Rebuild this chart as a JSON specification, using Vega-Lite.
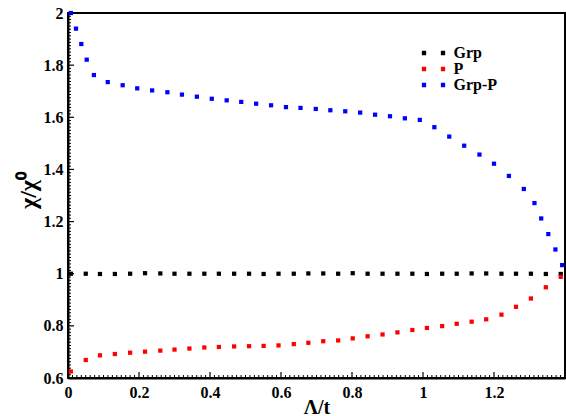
{
  "$schema": "https://vega.github.io/schema/vega-lite/v6.json",
  "width": 497,
  "height": 365,
  "autosize": {"type": "none"},
  "padding": {"left": 68, "top": 13, "right": 1, "bottom": 38},
  "background": "white",
  "config": {
    "view": {"stroke": "black", "strokeWidth": 2, "fill": null},
    "font": "Liberation Serif",
    "axis": {
      "grid": false,
      "ticks": false,
      "domainColor": "black",
      "domainWidth": 2,
      "labelFont": "Liberation Serif",
      "labelFontWeight": "bold",
      "labelFontSize": 16,
      "labelColor": "black",
      "labelOverlap": false,
      "labelBound": false,
      "labelFlush": false,
      "titleFont": "Liberation Serif",
      "titleFontWeight": "bold",
      "titleColor": "black"
    }
  },
  "datasets": {
    "xticks": [
      {"v": 0, "k": "major"}, {"v": 0.2, "k": "major"}, {"v": 0.4, "k": "major"}, {"v": 0.6, "k": "major"}, {"v": 0.8, "k": "major"}, {"v": 1, "k": "major"}, {"v": 1.2, "k": "major"},
      {"v": 0.0125, "k": "minor"}, {"v": 0.025, "k": "minor"}, {"v": 0.0375, "k": "minor"}, {"v": 0.05, "k": "minor"}, {"v": 0.0625, "k": "minor"}, {"v": 0.075, "k": "minor"}, {"v": 0.0875, "k": "minor"}, {"v": 0.1, "k": "minor"}, {"v": 0.1125, "k": "minor"}, {"v": 0.125, "k": "minor"}, {"v": 0.1375, "k": "minor"}, {"v": 0.15, "k": "minor"}, {"v": 0.1625, "k": "minor"}, {"v": 0.175, "k": "minor"}, {"v": 0.1875, "k": "minor"},
      {"v": 0.2125, "k": "minor"}, {"v": 0.225, "k": "minor"}, {"v": 0.2375, "k": "minor"}, {"v": 0.25, "k": "minor"}, {"v": 0.2625, "k": "minor"}, {"v": 0.275, "k": "minor"}, {"v": 0.2875, "k": "minor"}, {"v": 0.3, "k": "minor"}, {"v": 0.3125, "k": "minor"}, {"v": 0.325, "k": "minor"}, {"v": 0.3375, "k": "minor"}, {"v": 0.35, "k": "minor"}, {"v": 0.3625, "k": "minor"}, {"v": 0.375, "k": "minor"}, {"v": 0.3875, "k": "minor"},
      {"v": 0.4125, "k": "minor"}, {"v": 0.425, "k": "minor"}, {"v": 0.4375, "k": "minor"}, {"v": 0.45, "k": "minor"}, {"v": 0.4625, "k": "minor"}, {"v": 0.475, "k": "minor"}, {"v": 0.4875, "k": "minor"}, {"v": 0.5, "k": "minor"}, {"v": 0.5125, "k": "minor"}, {"v": 0.525, "k": "minor"}, {"v": 0.5375, "k": "minor"}, {"v": 0.55, "k": "minor"}, {"v": 0.5625, "k": "minor"}, {"v": 0.575, "k": "minor"}, {"v": 0.5875, "k": "minor"},
      {"v": 0.6125, "k": "minor"}, {"v": 0.625, "k": "minor"}, {"v": 0.6375, "k": "minor"}, {"v": 0.65, "k": "minor"}, {"v": 0.6625, "k": "minor"}, {"v": 0.675, "k": "minor"}, {"v": 0.6875, "k": "minor"}, {"v": 0.7, "k": "minor"}, {"v": 0.7125, "k": "minor"}, {"v": 0.725, "k": "minor"}, {"v": 0.7375, "k": "minor"}, {"v": 0.75, "k": "minor"}, {"v": 0.7625, "k": "minor"}, {"v": 0.775, "k": "minor"}, {"v": 0.7875, "k": "minor"},
      {"v": 0.8125, "k": "minor"}, {"v": 0.825, "k": "minor"}, {"v": 0.8375, "k": "minor"}, {"v": 0.85, "k": "minor"}, {"v": 0.8625, "k": "minor"}, {"v": 0.875, "k": "minor"}, {"v": 0.8875, "k": "minor"}, {"v": 0.9, "k": "minor"}, {"v": 0.9125, "k": "minor"}, {"v": 0.925, "k": "minor"}, {"v": 0.9375, "k": "minor"}, {"v": 0.95, "k": "minor"}, {"v": 0.9625, "k": "minor"}, {"v": 0.975, "k": "minor"}, {"v": 0.9875, "k": "minor"},
      {"v": 1.0125, "k": "minor"}, {"v": 1.025, "k": "minor"}, {"v": 1.0375, "k": "minor"}, {"v": 1.05, "k": "minor"}, {"v": 1.0625, "k": "minor"}, {"v": 1.075, "k": "minor"}, {"v": 1.0875, "k": "minor"}, {"v": 1.1, "k": "minor"}, {"v": 1.1125, "k": "minor"}, {"v": 1.125, "k": "minor"}, {"v": 1.1375, "k": "minor"}, {"v": 1.15, "k": "minor"}, {"v": 1.1625, "k": "minor"}, {"v": 1.175, "k": "minor"}, {"v": 1.1875, "k": "minor"},
      {"v": 1.2125, "k": "minor"}, {"v": 1.225, "k": "minor"}, {"v": 1.2375, "k": "minor"}, {"v": 1.25, "k": "minor"}, {"v": 1.2625, "k": "minor"}, {"v": 1.275, "k": "minor"}, {"v": 1.2875, "k": "minor"}, {"v": 1.3, "k": "minor"}, {"v": 1.3125, "k": "minor"}, {"v": 1.325, "k": "minor"}, {"v": 1.3375, "k": "minor"}, {"v": 1.35, "k": "minor"}, {"v": 1.3625, "k": "minor"}, {"v": 1.375, "k": "minor"}, {"v": 1.3875, "k": "minor"}
    ],
    "yticks": [
      {"v": 0.6, "k": "major"}, {"v": 0.8, "k": "major"}, {"v": 1, "k": "major"}, {"v": 1.2, "k": "major"}, {"v": 1.4, "k": "major"}, {"v": 1.6, "k": "major"}, {"v": 1.8, "k": "major"}, {"v": 2, "k": "major"},
      {"v": 0.6125, "k": "minor"}, {"v": 0.625, "k": "minor"}, {"v": 0.6375, "k": "minor"}, {"v": 0.65, "k": "minor"}, {"v": 0.6625, "k": "minor"}, {"v": 0.675, "k": "minor"}, {"v": 0.6875, "k": "minor"}, {"v": 0.7, "k": "minor"}, {"v": 0.7125, "k": "minor"}, {"v": 0.725, "k": "minor"}, {"v": 0.7375, "k": "minor"}, {"v": 0.75, "k": "minor"}, {"v": 0.7625, "k": "minor"}, {"v": 0.775, "k": "minor"}, {"v": 0.7875, "k": "minor"},
      {"v": 0.8125, "k": "minor"}, {"v": 0.825, "k": "minor"}, {"v": 0.8375, "k": "minor"}, {"v": 0.85, "k": "minor"}, {"v": 0.8625, "k": "minor"}, {"v": 0.875, "k": "minor"}, {"v": 0.8875, "k": "minor"}, {"v": 0.9, "k": "minor"}, {"v": 0.9125, "k": "minor"}, {"v": 0.925, "k": "minor"}, {"v": 0.9375, "k": "minor"}, {"v": 0.95, "k": "minor"}, {"v": 0.9625, "k": "minor"}, {"v": 0.975, "k": "minor"}, {"v": 0.9875, "k": "minor"},
      {"v": 1.0125, "k": "minor"}, {"v": 1.025, "k": "minor"}, {"v": 1.0375, "k": "minor"}, {"v": 1.05, "k": "minor"}, {"v": 1.0625, "k": "minor"}, {"v": 1.075, "k": "minor"}, {"v": 1.0875, "k": "minor"}, {"v": 1.1, "k": "minor"}, {"v": 1.1125, "k": "minor"}, {"v": 1.125, "k": "minor"}, {"v": 1.1375, "k": "minor"}, {"v": 1.15, "k": "minor"}, {"v": 1.1625, "k": "minor"}, {"v": 1.175, "k": "minor"}, {"v": 1.1875, "k": "minor"},
      {"v": 1.2125, "k": "minor"}, {"v": 1.225, "k": "minor"}, {"v": 1.2375, "k": "minor"}, {"v": 1.25, "k": "minor"}, {"v": 1.2625, "k": "minor"}, {"v": 1.275, "k": "minor"}, {"v": 1.2875, "k": "minor"}, {"v": 1.3, "k": "minor"}, {"v": 1.3125, "k": "minor"}, {"v": 1.325, "k": "minor"}, {"v": 1.3375, "k": "minor"}, {"v": 1.35, "k": "minor"}, {"v": 1.3625, "k": "minor"}, {"v": 1.375, "k": "minor"}, {"v": 1.3875, "k": "minor"},
      {"v": 1.4125, "k": "minor"}, {"v": 1.425, "k": "minor"}, {"v": 1.4375, "k": "minor"}, {"v": 1.45, "k": "minor"}, {"v": 1.4625, "k": "minor"}, {"v": 1.475, "k": "minor"}, {"v": 1.4875, "k": "minor"}, {"v": 1.5, "k": "minor"}, {"v": 1.5125, "k": "minor"}, {"v": 1.525, "k": "minor"}, {"v": 1.5375, "k": "minor"}, {"v": 1.55, "k": "minor"}, {"v": 1.5625, "k": "minor"}, {"v": 1.575, "k": "minor"}, {"v": 1.5875, "k": "minor"},
      {"v": 1.6125, "k": "minor"}, {"v": 1.625, "k": "minor"}, {"v": 1.6375, "k": "minor"}, {"v": 1.65, "k": "minor"}, {"v": 1.6625, "k": "minor"}, {"v": 1.675, "k": "minor"}, {"v": 1.6875, "k": "minor"}, {"v": 1.7, "k": "minor"}, {"v": 1.7125, "k": "minor"}, {"v": 1.725, "k": "minor"}, {"v": 1.7375, "k": "minor"}, {"v": 1.75, "k": "minor"}, {"v": 1.7625, "k": "minor"}, {"v": 1.775, "k": "minor"}, {"v": 1.7875, "k": "minor"},
      {"v": 1.8125, "k": "minor"}, {"v": 1.825, "k": "minor"}, {"v": 1.8375, "k": "minor"}, {"v": 1.85, "k": "minor"}, {"v": 1.8625, "k": "minor"}, {"v": 1.875, "k": "minor"}, {"v": 1.8875, "k": "minor"}, {"v": 1.9, "k": "minor"}, {"v": 1.9125, "k": "minor"}, {"v": 1.925, "k": "minor"}, {"v": 1.9375, "k": "minor"}, {"v": 1.95, "k": "minor"}, {"v": 1.9625, "k": "minor"}, {"v": 1.975, "k": "minor"}, {"v": 1.9875, "k": "minor"}
    ],
    "points": [
      {"x": 0.008, "y": 1.0, "series": "Grp"},
      {"x": 0.05, "y": 1.0, "series": "Grp"},
      {"x": 0.09, "y": 0.999, "series": "Grp"},
      {"x": 0.132, "y": 0.999, "series": "Grp"},
      {"x": 0.175, "y": 1.0, "series": "Grp"},
      {"x": 0.217, "y": 1.002, "series": "Grp"},
      {"x": 0.26, "y": 1.001, "series": "Grp"},
      {"x": 0.3, "y": 1.0, "series": "Grp"},
      {"x": 0.342, "y": 1.0, "series": "Grp"},
      {"x": 0.384, "y": 1.0, "series": "Grp"},
      {"x": 0.425, "y": 1.0, "series": "Grp"},
      {"x": 0.468, "y": 1.0, "series": "Grp"},
      {"x": 0.51, "y": 1.0, "series": "Grp"},
      {"x": 0.551, "y": 0.999, "series": "Grp"},
      {"x": 0.593, "y": 1.0, "series": "Grp"},
      {"x": 0.636, "y": 1.0, "series": "Grp"},
      {"x": 0.677, "y": 1.001, "series": "Grp"},
      {"x": 0.719, "y": 1.001, "series": "Grp"},
      {"x": 0.761, "y": 1.0, "series": "Grp"},
      {"x": 0.802, "y": 1.002, "series": "Grp"},
      {"x": 0.844, "y": 1.0, "series": "Grp"},
      {"x": 0.886, "y": 1.0, "series": "Grp"},
      {"x": 0.928, "y": 1.0, "series": "Grp"},
      {"x": 0.97, "y": 1.0, "series": "Grp"},
      {"x": 1.011, "y": 0.999, "series": "Grp"},
      {"x": 1.054, "y": 1.0, "series": "Grp"},
      {"x": 1.095, "y": 1.0, "series": "Grp"},
      {"x": 1.137, "y": 1.001, "series": "Grp"},
      {"x": 1.178, "y": 1.001, "series": "Grp"},
      {"x": 1.221, "y": 1.0, "series": "Grp"},
      {"x": 1.262, "y": 1.0, "series": "Grp"},
      {"x": 1.304, "y": 1.0, "series": "Grp"},
      {"x": 1.346, "y": 0.999, "series": "Grp"},
      {"x": 1.388, "y": 0.999, "series": "Grp"},
      {"x": 0.008, "y": 0.625, "series": "P"},
      {"x": 0.05, "y": 0.669, "series": "P"},
      {"x": 0.09, "y": 0.687, "series": "P"},
      {"x": 0.132, "y": 0.692, "series": "P"},
      {"x": 0.175, "y": 0.697, "series": "P"},
      {"x": 0.217, "y": 0.701, "series": "P"},
      {"x": 0.26, "y": 0.705, "series": "P"},
      {"x": 0.3, "y": 0.709, "series": "P"},
      {"x": 0.342, "y": 0.713, "series": "P"},
      {"x": 0.384, "y": 0.717, "series": "P"},
      {"x": 0.425, "y": 0.719, "series": "P"},
      {"x": 0.468, "y": 0.721, "series": "P"},
      {"x": 0.51, "y": 0.722, "series": "P"},
      {"x": 0.551, "y": 0.723, "series": "P"},
      {"x": 0.593, "y": 0.725, "series": "P"},
      {"x": 0.636, "y": 0.73, "series": "P"},
      {"x": 0.677, "y": 0.735, "series": "P"},
      {"x": 0.719, "y": 0.741, "series": "P"},
      {"x": 0.761, "y": 0.744, "series": "P"},
      {"x": 0.802, "y": 0.752, "series": "P"},
      {"x": 0.844, "y": 0.76, "series": "P"},
      {"x": 0.886, "y": 0.767, "series": "P"},
      {"x": 0.928, "y": 0.775, "series": "P"},
      {"x": 0.97, "y": 0.784, "series": "P"},
      {"x": 1.011, "y": 0.792, "series": "P"},
      {"x": 1.054, "y": 0.799, "series": "P"},
      {"x": 1.095, "y": 0.808, "series": "P"},
      {"x": 1.137, "y": 0.816, "series": "P"},
      {"x": 1.178, "y": 0.825, "series": "P"},
      {"x": 1.221, "y": 0.843, "series": "P"},
      {"x": 1.262, "y": 0.873, "series": "P"},
      {"x": 1.304, "y": 0.905, "series": "P"},
      {"x": 1.346, "y": 0.948, "series": "P"},
      {"x": 1.388, "y": 0.988, "series": "P"},
      {"x": 0.008, "y": 2.0, "series": "Grp-P"},
      {"x": 0.0225, "y": 1.94, "series": "Grp-P"},
      {"x": 0.0375, "y": 1.881, "series": "Grp-P"},
      {"x": 0.0527, "y": 1.821, "series": "Grp-P"},
      {"x": 0.073, "y": 1.762, "series": "Grp-P"},
      {"x": 0.112, "y": 1.735, "series": "Grp-P"},
      {"x": 0.154, "y": 1.723, "series": "Grp-P"},
      {"x": 0.195, "y": 1.711, "series": "Grp-P"},
      {"x": 0.237, "y": 1.703, "series": "Grp-P"},
      {"x": 0.28, "y": 1.696, "series": "Grp-P"},
      {"x": 0.321, "y": 1.687, "series": "Grp-P"},
      {"x": 0.363, "y": 1.679, "series": "Grp-P"},
      {"x": 0.405, "y": 1.671, "series": "Grp-P"},
      {"x": 0.447, "y": 1.665, "series": "Grp-P"},
      {"x": 0.488, "y": 1.659, "series": "Grp-P"},
      {"x": 0.53, "y": 1.652, "series": "Grp-P"},
      {"x": 0.572, "y": 1.646, "series": "Grp-P"},
      {"x": 0.614, "y": 1.639, "series": "Grp-P"},
      {"x": 0.655, "y": 1.636, "series": "Grp-P"},
      {"x": 0.698, "y": 1.632, "series": "Grp-P"},
      {"x": 0.739, "y": 1.627, "series": "Grp-P"},
      {"x": 0.781, "y": 1.623, "series": "Grp-P"},
      {"x": 0.823, "y": 1.618, "series": "Grp-P"},
      {"x": 0.865, "y": 1.61, "series": "Grp-P"},
      {"x": 0.907, "y": 1.604, "series": "Grp-P"},
      {"x": 0.949, "y": 1.596, "series": "Grp-P"},
      {"x": 0.991, "y": 1.59, "series": "Grp-P"},
      {"x": 1.032, "y": 1.562, "series": "Grp-P"},
      {"x": 1.074, "y": 1.526, "series": "Grp-P"},
      {"x": 1.116, "y": 1.491, "series": "Grp-P"},
      {"x": 1.159, "y": 1.457, "series": "Grp-P"},
      {"x": 1.2, "y": 1.422, "series": "Grp-P"},
      {"x": 1.242, "y": 1.375, "series": "Grp-P"},
      {"x": 1.284, "y": 1.325, "series": "Grp-P"},
      {"x": 1.314, "y": 1.271, "series": "Grp-P"},
      {"x": 1.333, "y": 1.212, "series": "Grp-P"},
      {"x": 1.353, "y": 1.152, "series": "Grp-P"},
      {"x": 1.373, "y": 1.093, "series": "Grp-P"},
      {"x": 1.392, "y": 1.033, "series": "Grp-P"}
    ]
  },
  "layer": [
    {
      "data": {"name": "xticks"},
      "transform": [{"filter": "datum.k === 'major'"}],
      "mark": {"type": "tick", "orient": "vertical", "thickness": 1.2, "size": 6, "yOffset": -3, "color": "black", "opacity": 1},
      "encoding": {
        "x": {"field": "v", "type": "quantitative", "scale": {"domain": [0, 1.4], "nice": false, "zero": false}, "axis": {"title": "Λ/t"}},
        "y": {"datum": 0.6, "type": "quantitative", "scale": {"domain": [0.6, 2.0], "nice": false, "zero": false}, "axis": {"title": "χ/χ⁰"}}
      }
    },
    {
      "data": {"name": "xticks"},
      "transform": [{"filter": "datum.k === 'minor'"}],
      "mark": {"type": "tick", "orient": "vertical", "thickness": 1, "size": 3, "yOffset": -1.5, "color": "black", "opacity": 1},
      "encoding": {
        "x": {"field": "v", "type": "quantitative", "scale": {"domain": [0, 1.4], "nice": false, "zero": false}, "axis": {"title": "Λ/t"}},
        "y": {"datum": 0.6, "type": "quantitative", "scale": {"domain": [0.6, 2.0], "nice": false, "zero": false}, "axis": {"title": "χ/χ⁰"}}
      }
    },
    {
      "data": {"name": "yticks"},
      "transform": [{"filter": "datum.k === 'major'"}],
      "mark": {"type": "tick", "orient": "horizontal", "thickness": 1.2, "size": 6, "xOffset": 3, "color": "black", "opacity": 1},
      "encoding": {
        "y": {"field": "v", "type": "quantitative", "scale": {"domain": [0.6, 2.0], "nice": false, "zero": false}, "axis": {"title": "χ/χ⁰"}},
        "x": {"datum": 0, "type": "quantitative", "scale": {"domain": [0, 1.4], "nice": false, "zero": false}, "axis": {"title": "Λ/t"}}
      }
    },
    {
      "data": {"name": "yticks"},
      "transform": [{"filter": "datum.k === 'minor'"}],
      "mark": {"type": "tick", "orient": "horizontal", "thickness": 1, "size": 3, "xOffset": 1.5, "color": "black", "opacity": 1},
      "encoding": {
        "y": {"field": "v", "type": "quantitative", "scale": {"domain": [0.6, 2.0], "nice": false, "zero": false}, "axis": {"title": "χ/χ⁰"}},
        "x": {"datum": 0, "type": "quantitative", "scale": {"domain": [0, 1.4], "nice": false, "zero": false}, "axis": {"title": "Λ/t"}}
      }
    },
    {
      "data": {"name": "points"},
      "mark": {"type": "point", "shape": "square", "filled": true, "size": 18, "opacity": 1, "strokeWidth": 0},
      "encoding": {
        "x": {
          "field": "x",
          "type": "quantitative",
          "scale": {"domain": [0, 1.4], "nice": false, "zero": false},
          "axis": {
            "orient": "bottom",
            "title": "Λ/t",
            "titleFontSize": 20,
            "titleX": 248.5,
            "titleY": 35,
            "titleAlign": "center",
            "titleBaseline": "alphabetic",
            "values": [0, 0.2, 0.4, 0.6, 0.8, 1, 1.2],
            "format": ".1~f",
            "labelPadding": 6
          }
        },
        "y": {
          "field": "y",
          "type": "quantitative",
          "scale": {"domain": [0.6, 2.0], "nice": false, "zero": false},
          "axis": {
            "orient": "left",
            "title": "χ/χ⁰",
            "titleFontSize": 24,
            "titleX": -40,
            "titleY": 177,
            "titleAngle": -90,
            "titleAlign": "center",
            "titleBaseline": "middle",
            "values": [0.6, 0.8, 1, 1.2, 1.4, 1.6, 1.8, 2],
            "format": ".1~f",
            "labelPadding": 5
          }
        },
        "color": {
          "field": "series",
          "type": "nominal",
          "sort": ["Grp", "P", "Grp-P"],
          "scale": {"domain": ["Grp", "P", "Grp-P"], "range": ["#000000", "#ff0000", "#0000ff"]},
          "legend": {
            "title": null,
            "orient": "none",
            "legendX": 357.5,
            "legendY": 32,
            "padding": 0,
            "symbolType": "M-2.91,-0.54H-1.84V0.54H-2.91Z M1.84,-0.54H2.91V0.54H1.84Z",
            "symbolSize": 64,
            "symbolStrokeWidth": 0,
            "symbolOpacity": 1,
            "labelFont": "Liberation Serif",
            "labelFontWeight": "bold",
            "labelFontSize": 16,
            "labelColor": "black",
            "labelOffset": 12,
            "rowPadding": -1.5
          }
        },
        "order": {"field": "series", "sort": "ascending"}
      }
    }
  ]
}
